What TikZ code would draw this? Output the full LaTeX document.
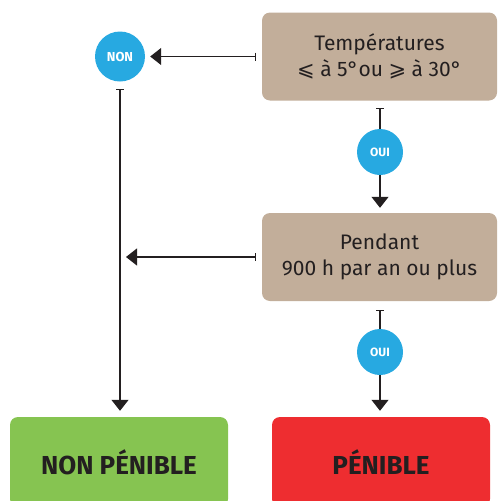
\documentclass[tikz,border=0pt]{standalone}
\usepackage{fontspec}
\setmainfont{Fira Sans}
\newfontfamily\symfont{DejaVu Sans}
\usetikzlibrary{arrows.meta}
\definecolor{tan}{HTML}{C2AE9A}
\definecolor{ink}{HTML}{231F20}
\definecolor{bubble}{HTML}{27A9E1}
\definecolor{okgreen}{HTML}{86C451}
\definecolor{alarm}{HTML}{EE2D30}
\tikzset{
  question/.style={fill=tan, rounded corners=8pt, minimum width=235pt,
    minimum height=88pt, inner sep=0pt, align=center, text=ink,
    font=\fontsize{21}{26}\selectfont},
  answer/.style={circle, fill=bubble, minimum size=#1, inner sep=0pt,
    text=white},
  verdict/.style={fill=#1, rounded corners=8pt, minimum width=218pt,
    minimum height=90pt, inner sep=0pt, text=ink,
    font=\bfseries\fontsize{26}{30}\selectfont},
  flow/.style={draw=ink, line width=1.2pt,
    -{Triangle[width=17pt,length=11pt]}},
  flowbar/.style={flow, {Bar[width=8pt,line width=1.2pt]}-{Triangle[width=17pt,length=11pt]}},
  plainbar/.style={draw=ink, line width=1.2pt, {Bar[width=8pt,line width=1.2pt]}-}
}
\begin{document}
\begin{tikzpicture}[x=1pt, y=-1pt]
  \useasboundingbox (0,0) rectangle (498,501);
  \clip (0,0) rectangle (498,501);

  % decision boxes
  \node[question] (temp) at (379.5,56.5) {Températures\\{\symfont⩽} à 5°ou {\symfont⩾} à 30°};
  \node[question] (hours) at (379.5,257) {Pendant\\900 h par an ou plus};

  % answer bubbles
  \node[answer=50pt, font=\bfseries\fontsize{13}{15}\selectfont] (non) at (120,56.5) {NON};
  \node[answer=46pt, font=\bfseries\fontsize{12}{14}\selectfont] (oui1) at (380,152) {OUI};
  \node[answer=46pt, font=\bfseries\fontsize{12}{14}\selectfont] (oui2) at (380,352) {OUI};

  % outcomes
  \node[verdict=okgreen] (easy) at (119,462) {NON PÉNIBLE};
  \node[verdict=alarm] (hard) at (381,462) {PÉNIBLE};

  % connectors
  \draw[flowbar, shorten <=6pt, shorten >=5pt] (temp.west) -- (non.east);
  \draw[flowbar, shorten <=7pt, shorten >=6pt] (non.south) -- (non.south |- easy.north);
  \draw[plainbar, shorten <=7pt] (temp.south -| oui1) -- (oui1.north);
  \draw[flow, shorten >=5pt] (oui1.south) -- (oui1.south |- hours.north);
  \draw[flowbar, shorten <=6pt, shorten >=6pt] (hours.west) -- (hours.west -| non.south);
  \draw[plainbar, shorten <=9pt] (hours.south -| oui2) -- (oui2.north);
  \draw[flow, shorten >=6pt] (oui2.south) -- (oui2.south |- hard.north);
\end{tikzpicture}
\end{document}
